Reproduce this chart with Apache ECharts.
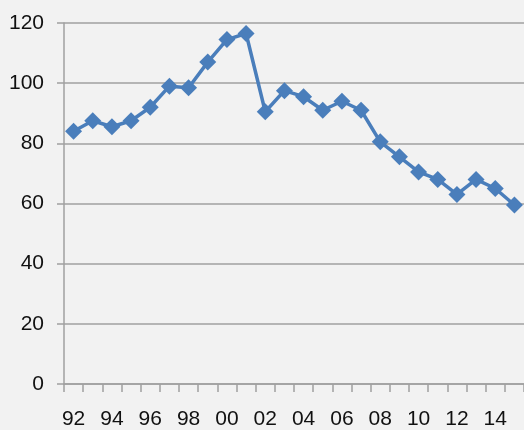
<!DOCTYPE html>
<html>
<head>
<meta charset="utf-8">
<script src="https://cdn.jsdelivr.net/npm/echarts@6/dist/echarts.min.js"></script>
<style>
  html, body { margin: 0; padding: 0; background: #f2f2f2; }
  #chart { width: 524px; height: 430px; }
</style>
</head>
<body>
<div id="chart"></div>
<script>
// years 1992 - 2015, shown as two-digit labels
const years = ['92', '93', '94', '95', '96', '97', '98', '99', '00', '01', '02', '03',
               '04', '05', '06', '07', '08', '09', '10', '11', '12', '13', '14', '15']
const values = [84, 87.5, 85.5, 87.5, 92, 99, 98.5, 107, 114.5, 116.5, 90.5, 97.5,
                95.5, 91, 94, 91, 80.5, 75.5, 70.5, 68, 63, 68, 65, 59.5]

const chart = echarts.init(document.getElementById('chart'))

const labelFont = {
  color: '#111',
  fontSize: 21,
  fontFamily: 'Liberation Sans, sans-serif'
}

chart.setOption({
  backgroundColor: '#f2f2f2',
  animation: false,
  grid: { left: 64, right: -3, top: 23, bottom: 45 },
  xAxis: {
    type: 'category',
    data: years,
    boundaryGap: true,
    axisLine: { lineStyle: { color: '#a0a0a0', width: 1.5 } },
    axisTick: { show: true, interval: 0, length: 8, lineStyle: { color: '#a0a0a0', width: 1.5 } },
    axisLabel: Object.assign({ interval: 1, margin: 25 }, labelFont)
  },
  yAxis: {
    type: 'value',
    min: 0,
    max: 120,
    interval: 20,
    axisLine: { show: true, lineStyle: { color: '#a0a0a0', width: 1.5 } },
    axisTick: { show: true, length: 7, lineStyle: { color: '#a0a0a0', width: 1.5 } },
    axisLabel: Object.assign({ margin: 20 }, labelFont),
    splitLine: { lineStyle: { color: '#a0a0a0', width: 1.5 } }
  },
  series: [{
    type: 'line',
    data: values,
    showAllSymbol: true,
    symbol: 'diamond',
    symbolSize: 17,
    lineStyle: { color: '#4a7ebb', width: 3.5 },
    itemStyle: { color: '#4a7ebb' }
  }]
})
</script>
</body>
</html>
